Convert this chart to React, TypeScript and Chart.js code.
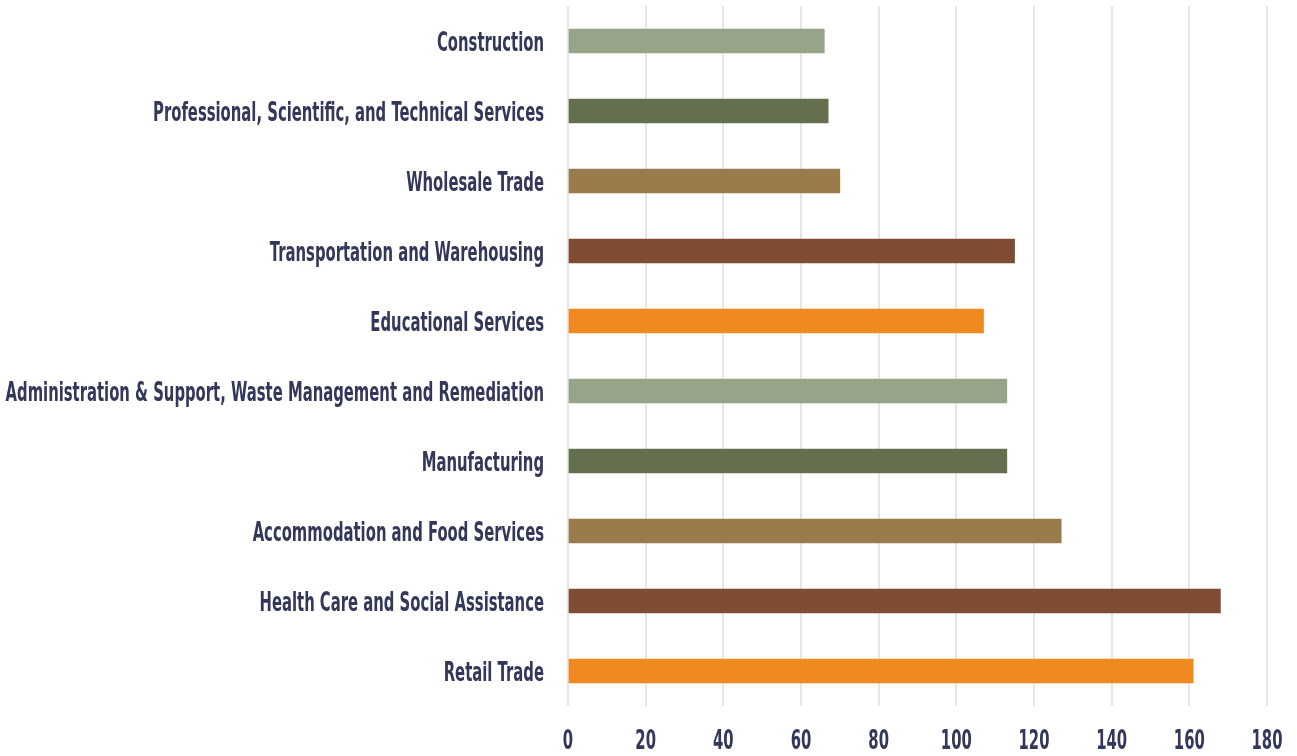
import React, { useEffect, useRef } from "react";
import { Chart, registerables } from "chart.js";

Chart.register(...registerables);

const categories: string[] = [
  "Construction",
  "Professional, Scientific, and Technical Services",
  "Wholesale Trade",
  "Transportation and Warehousing",
  "Educational Services",
  "Administration & Support, Waste Management and Remediation",
  "Manufacturing",
  "Accommodation and Food Services",
  "Health Care and Social Assistance",
  "Retail Trade",
];

const values: number[] = [66, 67, 70, 115, 107, 113, 113, 127, 168, 161];

const barColors: string[] = [
  "#98a48a",
  "#636f4f",
  "#9a7b4c",
  "#7f4d34",
  "#ee8a1f",
  "#98a48a",
  "#636f4f",
  "#9a7b4c",
  "#7f4d34",
  "#ee8a1f",
];

const xMin = 0;
const xMax = 180;
const xStep = 20;

const LABEL_COLOR = "#33375a";
const LABEL_FONT = "bold 26px 'DejaVu Sans', sans-serif";
const SQUEEZE = 0.57;
const Y_LABEL_GAP = 24;
const CAP_HALF = 9.5;
const X_LABEL_BASELINE = 43;

const squeezedLabels = {
  id: "squeezedLabels",
  afterDraw(chart: any) {
    const ctx = chart.ctx as CanvasRenderingContext2D;
    const ys = chart.scales.y;
    const xs = chart.scales.x;
    ctx.save();
    ctx.fillStyle = LABEL_COLOR;
    ctx.font = LABEL_FONT;
    ctx.textBaseline = "alphabetic";
    ctx.textAlign = "right";
    ys.ticks.forEach((t: any, i: number) => {
      const py = ys.getPixelForTick(i);
      ctx.save();
      ctx.translate(ys.right - Y_LABEL_GAP, py + CAP_HALF);
      ctx.scale(SQUEEZE, 1);
      ctx.fillText(String(t.label), 0, 0);
      ctx.restore();
    });
    ctx.textAlign = "center";
    xs.ticks.forEach((t: any, i: number) => {
      const px = xs.getPixelForTick(i);
      ctx.save();
      ctx.translate(px, xs.top + X_LABEL_BASELINE);
      ctx.scale(SQUEEZE, 1);
      ctx.fillText(String(t.label), 0, 0);
      ctx.restore();
    });
    ctx.restore();
  },
};

export default function App() {
  const ref = useRef<HTMLCanvasElement | null>(null);

  useEffect(() => {
    if (!ref.current) return;
    const chart = new Chart(ref.current, {
      type: "bar",
      data: {
        labels: categories,
        datasets: [
          {
            data: values,
            backgroundColor: barColors,
            borderWidth: 0,
            barThickness: 24,
          },
        ],
      },
      options: {
        indexAxis: "y",
        animation: false,
        responsive: false,
        layout: { padding: { left: 0, right: 30, top: 6, bottom: 0 } },
        plugins: { legend: { display: false }, tooltip: { enabled: false } },
        scales: {
          x: {
            min: xMin,
            max: xMax,
            ticks: {
              stepSize: xStep,
              color: "rgba(0,0,0,0)",
              padding: 19,
              font: { size: 12 },
            },
            grid: { color: "#e6e6e6", lineWidth: 2, drawTicks: false },
            border: { display: false },
            afterFit: (s: any) => {
              s.height = 50;
              s.paddingLeft = 0;
              s.paddingRight = 0;
            },
          },
          y: {
            ticks: {
              color: "rgba(0,0,0,0)",
              padding: 25,
              font: { size: 12 },
            },
            grid: { display: false, drawTicks: false },
            border: { display: false },
            afterFit: (s: any) => {
              s.width = 568;
              s.paddingTop = 0;
              s.paddingBottom = 0;
            },
          },
        },
      },
      plugins: [squeezedLabels],
    });
    return () => chart.destroy();
  }, []);

  return (
    <div style={{ position: "absolute", left: 0, top: 0, width: 1297, height: 756, background: "#fff" }}>
      <canvas ref={ref} width={1297} height={756} />
    </div>
  );
}
